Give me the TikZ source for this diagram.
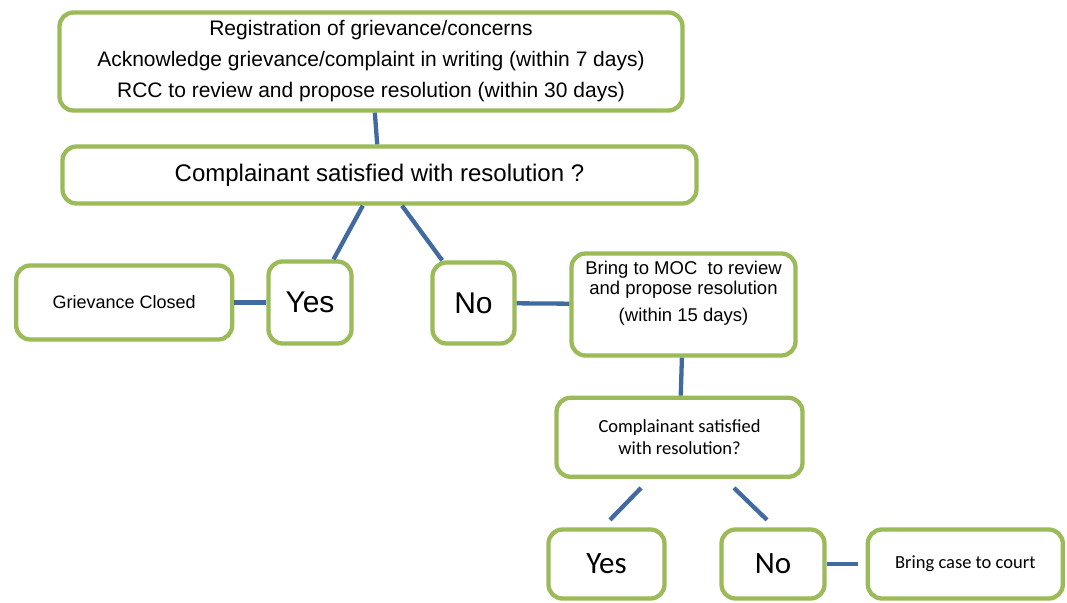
\documentclass[tikz,border=0pt]{standalone}
\usepackage{fontspec}
\setmainfont{Liberation Sans}
\newfontfamily\calibri{Carlito}
\usetikzlibrary{positioning, calc}
\definecolor{boxgreen}{RGB}{155,187,89}
\definecolor{linkblue}{RGB}{64,106,160}

\begin{document}
\begin{tikzpicture}[
    x=1pt, y=-1pt,
    box/.style={rectangle, rounded corners=14pt, draw=boxgreen, line width=4.3pt, fill=white, align=center, inner sep=2pt},
    yesno/.style={box, font=\fontsize{30}{34}\selectfont, minimum width=83pt, minimum height=82pt},
    yesnolow/.style={box, font=\calibri\fontsize{31}{34}\selectfont, minimum height=69pt},
    link/.style={draw=linkblue, line width=4.3pt}
]
\useasboundingbox (0,0) rectangle (1067,602);

% --- First level: RCC ---
\node[box, minimum width=623pt, minimum height=98pt, font=\fontsize{21}{31}\selectfont] (rcc) at (371,61.5)
    {Registration of grievance/concerns\\Acknowledge grievance/complaint in writing (within 7 days)\\RCC to review and propose resolution (within 30 days)};
\node[box, minimum width=634pt, minimum height=57pt, font=\fontsize{24}{28}\selectfont] (satisf) at (379.5,175) {Complainant satisfied with resolution ?};

\node[yesno] (yes) at (310,302.5) {Yes};
\node[box, left=32pt of yes, minimum width=216pt, minimum height=74pt, font=\fontsize{18}{22}\selectfont] (closed) {Grievance Closed};
\node[yesno, minimum width=82pt, minimum height=81pt] (no) at (473.5,303) {No};

% --- Second level: MOC ---
\node[box, minimum width=224pt, minimum height=102pt, font=\fontsize{18.5}{20}\selectfont] (moc) at (683.5,304.5)
    {\parbox[c][86pt][t]{220pt}{\centering Bring to MOC\ \ to review\\and propose resolution\\[7pt](within 15 days)}};
\node[box, below=38pt of moc, xshift=-4pt, minimum width=246pt, minimum height=79pt, font=\calibri\fontsize{18.5}{22.5}\selectfont] (satisfmoc)
    {Complainant satisfied\\with resolution?};

\node[yesnolow, minimum width=116pt] (yesmoc) at (606.5,564) {Yes};
\node[yesnolow, minimum width=103pt] (nomoc) at (773,564) {No};
\node[box, right=39pt of nomoc, minimum width=195pt, minimum height=69pt, font=\calibri\fontsize{18.5}{22}\selectfont] (court) {Bring case to court};

\draw[link] (rcc) -- (satisf);
\draw[link] (satisf) -- (yes);
\draw[link] (satisf) -- (no);
\draw[link] (closed) -- (yes);
\draw[link] (no) -- (moc);
\draw[link] (moc) -- (satisfmoc);
\draw[link] ($(satisfmoc.south)+(-38.5,9)$) -- ($(yesmoc.north)+(3.5,-7.5)$);
\draw[link] ($(satisfmoc.south)+(54.5,9)$) -- ($(nomoc.north)+(-6,-7.5)$);
\draw[link, shorten >=8pt] (nomoc) -- (court);
\end{tikzpicture}
\end{document}
